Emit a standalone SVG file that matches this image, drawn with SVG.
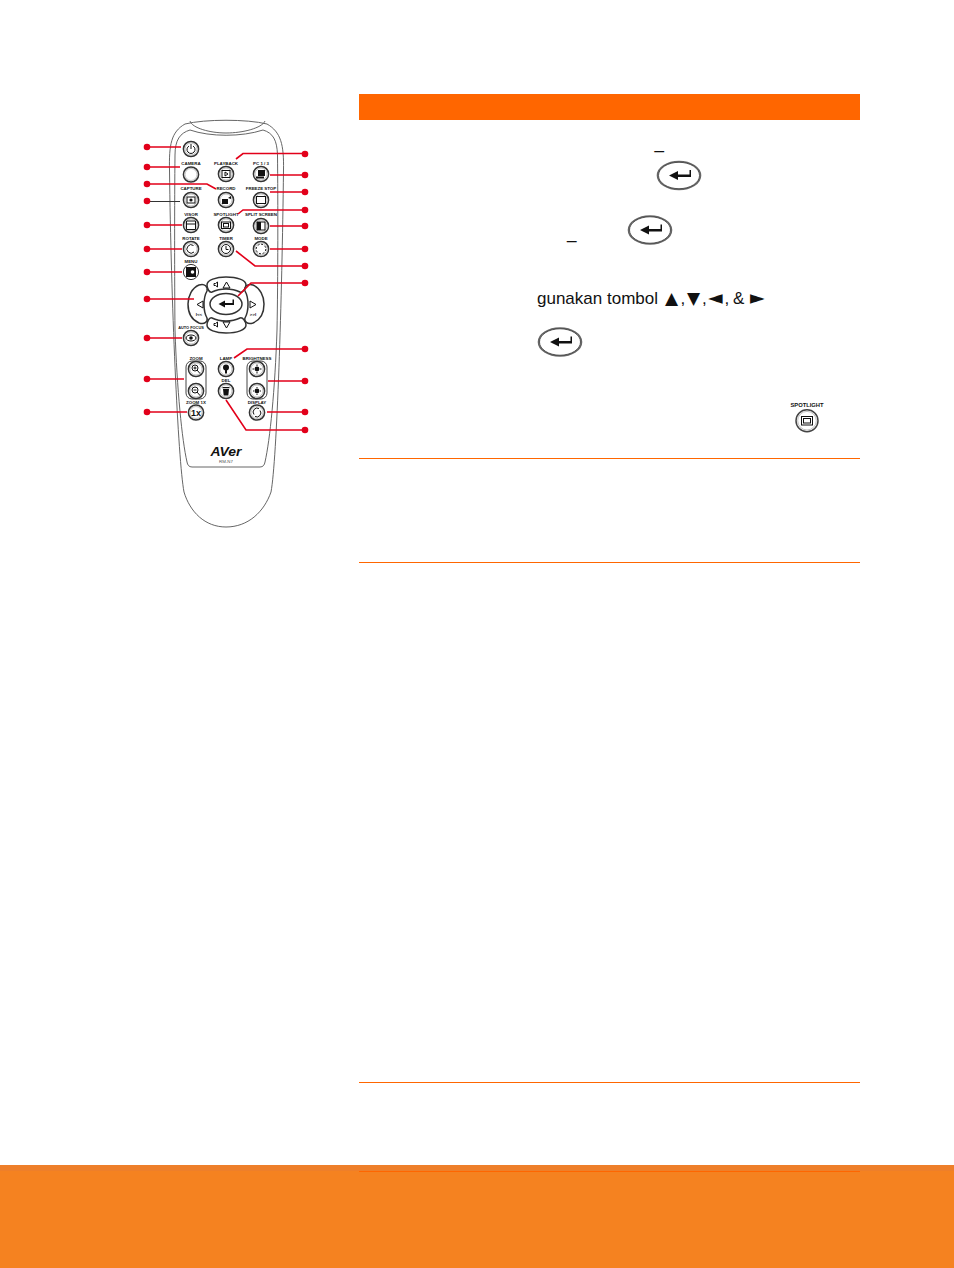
<svg xmlns="http://www.w3.org/2000/svg" width="954" height="1268" viewBox="0 0 954 1268">
<style>
.body{fill:none;stroke:#555;stroke-width:.9}
.btn{fill:#fff;stroke:#333;stroke-width:1.5}
.ring{fill:none;stroke:#999;stroke-width:.6}
.ico{fill:none;stroke:#111;stroke-width:1}
.solid{fill:#111;stroke:none}
.lbl{font-family:"Liberation Sans",Arial,sans-serif;font-size:4.4px;font-weight:bold;text-anchor:middle;fill:#111}
.con{fill:none;stroke:#e2001a;stroke-width:1.6}
.dot{fill:#e2001a;stroke:none}
.txt{font-family:"Liberation Sans",Arial,sans-serif;font-size:17px;fill:#111}
.tri{font-family:"DejaVu Sans",sans-serif;font-size:19px}
.tri2{font-family:"DejaVu Sans",sans-serif;font-size:17px}
.rule{stroke:#ff6600;stroke-width:1;fill:none}
</style>
<defs>
<g id="enter"><ellipse cx="0" cy="0" rx="21.500" ry="14" fill="#fff" stroke="#666" stroke-width="1.600"/><ellipse cx="0" cy="0" rx="20.500" ry="13.200" fill="none" stroke="#222" stroke-width=".7"/><path d="M-10 0L-1 -4.500V-1H10.500V-5.500H12V1.500H-1V4.500Z" fill="#111"/></g>
<g id="b"><circle r="7.600" class="btn"/><circle r="6" class="ring"/></g>
</defs>
<rect width="954" height="1268" fill="#fff"/>

<g id="page">
<rect x="359" y="94" width="501" height="26" fill="#ff6600"/>
<path class="rule" d="M359 458.500H860M359 562.500H860M359 1082.500H860"/>
<rect x="0" y="1165" width="954" height="103" fill="#f58220"/>
<rect x="0" y="1165" width="954" height="6" fill="#ee7f2a"/>
<path class="rule" d="M359 1171.500H860"/>
</g>

<g id="remote-body">
<path class="body" d="M226 527C205 527 190 512 184 492C178 460 171 300 169.500 170C169 145 171 132 185 124C205 119 247 119 267 124C281 132 284 145 283.500 170C282 300 277 460 271 492C264 512 248 527 226 527Z"/>
<path class="body" d="M175 330C174.500 280 174.500 200 175 155C175 140 180 133 190 130C210 137 242 137 263 130C273 133 277 140 277.500 155C278 200 278 280 277 330C275 390 270 440 265 462C264.500 465 263 467 260 467H192C189 467 187.500 465 187 462C182 440 177 390 175 330Z"/>
<path class="body" d="M190 121C192 128 210 133 226 133C243 133 262 128 265 121"/>
<text x="226" y="456" font-family="Liberation Sans,Arial,sans-serif" font-size="13" font-weight="bold" font-style="italic" text-anchor="middle" fill="#111" textLength="31" lengthAdjust="spacingAndGlyphs">AVer</text>
<text class="lbl" x="226" y="463" style="font-weight:normal;fill:#555">RM-N7</text>
</g>

<g id="btn-power"><use href="#b" x="191" y="149"/><path class="ico" d="M189 146A4 4 0 1 0 193 146M191 144V149"/></g>
<g id="btn-camera"><text class="lbl" x="191" y="165">CAMERA</text><use href="#b" x="191" y="174.500"/></g>
<g id="btn-capture"><text class="lbl" x="191" y="190">CAPTURE</text><use href="#b" x="191" y="200"/><rect class="ico" x="187" y="197" width="8" height="6"/><circle class="solid" cx="191" cy="200" r="1.600"/></g>
<g id="btn-visor"><text class="lbl" x="191" y="215.500">VISOR</text><use href="#b" x="191" y="225"/><path class="ico" d="M186.500 221H195.500V229.500H186.500ZM186.500 224H195.500"/></g>
<g id="btn-rotate"><text class="lbl" x="191" y="240">ROTATE</text><use href="#b" x="191" y="249"/><path class="ico" d="M193.500 245.500A4.200 4.200 0 1 0 194 252"/></g>
<g id="btn-menu"><text class="lbl" x="191" y="263">MENU</text><circle cx="191" cy="272" r="7.600" fill="#fff" stroke="#333"/><rect class="solid" x="186" y="267" width="10" height="10"/><circle cx="192.500" cy="272" r="1.800" fill="#fff"/></g>
<g id="btn-autofocus"><text class="lbl" x="191" y="329" style="font-size:3.900px">AUTO FOCUS</text><use href="#b" x="191" y="338"/><ellipse class="ico" cx="191" cy="338" rx="5" ry="3"/><circle class="solid" cx="191" cy="338" r="1.800"/></g>

<g id="btn-playback"><text class="lbl" x="226" y="165">PLAYBACK</text><use href="#b" x="226" y="174"/><rect class="ico" x="222" y="170.500" width="8" height="7"/><path class="ico" d="M225 172L228 174L225 176Z"/></g>
<g id="btn-record"><text class="lbl" x="226" y="190">RECORD</text><use href="#b" x="226" y="200"/><path class="solid" d="M222 199H228V204H222ZM228 198L231 196V199Z"/></g>
<g id="btn-spotlight"><text class="lbl" x="226" y="215.500">SPOTLIGHT</text><use href="#b" x="226" y="225"/><rect class="ico" x="221.500" y="222" width="9" height="6.500"/><rect class="ico" x="223.500" y="223.500" width="5" height="3.500"/></g>
<g id="btn-timer"><text class="lbl" x="226" y="240">TIMER</text><use href="#b" x="226" y="249"/><circle class="ico" cx="226" cy="249" r="4.500"/><path class="ico" d="M226 246V249.500H228.500"/></g>

<g id="btn-pc"><text class="lbl" x="261" y="165">PC 1 / 3</text><use href="#b" x="261" y="174"/><path class="solid" d="M258 170H265V176H258ZM256 176.500H264V178.500H256Z"/></g>
<g id="btn-freeze"><text class="lbl" x="261" y="190">FREEZE STOP</text><use href="#b" x="261" y="200"/><rect class="ico" x="256.500" y="196.500" width="9" height="7" stroke-width="1.200"/></g>
<g id="btn-split"><text class="lbl" x="261" y="215.500">SPLIT SCREEN</text><use href="#b" x="261" y="226"/><rect class="ico" x="257" y="222" width="8" height="8"/><rect class="solid" x="257" y="222" width="4" height="8"/></g>
<g id="btn-mode"><text class="lbl" x="261" y="240">MODE</text><use href="#b" x="261" y="249"/><circle cx="261" cy="249" r="4.800" fill="none" stroke="#111" stroke-dasharray="2 1.700"/></g>

<g id="dpad">
<path class="btn" d="M207 285C207 280 216 277 226 277C237 277 246 280 246 285C246 288 243 293 240 292C232 288 220 288 212 292C209 293 207 288 207 285Z"/>
<path class="btn" d="M207 325C207 330 216 333 226 333C237 333 246 330 246 325C246 322 243 317 240 318C232 322 220 322 212 318C209 317 207 322 207 325Z"/>
<path class="btn" d="M199 285C192 288 188 296 188 304C188 313 192 320 199 323C205 325 208 321 207 318C203 311 203 298 207 291C208 287 205 283 199 285Z"/>
<path class="btn" d="M253 285C260 288 264 296 264 304C264 313 260 320 253 323C247 325 244 321 245 318C249 311 249 298 245 291C244 287 247 283 253 285Z"/>
<ellipse class="btn" cx="226" cy="304" rx="16" ry="10.500"/>
<path d="M218.500 304L225 300.500V303H232.500V299.500H234V305H225V307.500Z" fill="#111"/>
<path class="ico" d="M223 288H230L226.500 282ZM223 322H230L226.500 328Z"/>
<path class="ico" d="M214 283.500H215.500L217.500 282V287L215.500 285.500H214ZM214 323.500H215.500L217.500 322V327L215.500 325.500H214Z"/>
<path class="ico" d="M203 301V308L197 304.500ZM250 301V308L256 304.500Z"/>
<text class="lbl" x="199" y="316">I&lt;&lt;</text><text class="lbl" x="253" y="316">&gt;&gt;I</text>
</g>

<g id="group-zoom"><text class="lbl" x="196" y="359.500">ZOOM</text><rect x="186" y="361" width="20" height="38" rx="6" fill="#fff" stroke="#444"/><use href="#b" x="196" y="369"/><use href="#b" x="196" y="391"/><circle class="ico" cx="195" cy="368" r="3"/><path class="ico" d="M197 370L200 373.500M193.500 368H196.500M195 366.500V369.500"/><circle class="ico" cx="195" cy="390" r="3"/><path class="ico" d="M197 392L200 395.500M193.500 390H196.500"/></g>
<g id="btn-zoom1x"><text class="lbl" x="196" y="403.500">ZOOM 1X</text><use href="#b" x="196" y="412.500"/><text x="196" y="415.800" font-family="Liberation Sans,Arial,sans-serif" font-size="9" font-weight="bold" text-anchor="middle" fill="#111">1x</text></g>
<g id="btn-lamp"><text class="lbl" x="226" y="359.500">LAMP</text><use href="#b" x="226" y="369"/><circle class="solid" cx="226" cy="367.500" r="3"/><rect class="solid" x="225" y="369" width="2" height="4.500"/></g>
<g id="btn-del"><text class="lbl" x="226" y="382">DEL</text><use href="#b" x="226" y="391"/><path class="solid" d="M222.500 387H229.500V388.300H222.500ZM223 389H229L228.300 395.500H223.700Z"/></g>
<g id="group-brightness"><text class="lbl" x="257" y="359.500">BRIGHTNESS</text><rect x="247" y="361" width="20" height="38" rx="6" fill="#fff" stroke="#444"/><use href="#b" x="257" y="369"/><use href="#b" x="257" y="391"/><circle class="solid" cx="257" cy="369" r="2.400"/><path class="ico" d="M257 364.500V366M257 372V373.500M252.500 369H254M260 369H261.500"/><circle class="solid" cx="257" cy="391" r="2.400"/><path class="ico" d="M257 387V388M257 394V395M253 391H254M260 391H261"/></g>
<g id="btn-display"><text class="lbl" x="257" y="403.500">DISPLAY</text><use href="#b" x="257" y="412.500"/><path class="ico" d="M254 414.500A4 4 0 0 1 259 408.500M260 410.500A4 4 0 0 1 255 416.500" stroke-width="1.200"/></g>

<g id="connectors">
<path class="con" d="M147 147H181M147 167H180M147 184H207L216 189M147 225H182M147 249H182M147 272H182M147 299H194M147 338H182M147 379H184M147 412H187"/>
<path d="M147 201.500H180" fill="none" stroke="#333" stroke-width="1"/>
<path class="con" d="M305 153.500H243L236 159M305 175H270M305 192H270M305 210H243L238 214M305 226H270M305 249H270M305 266H255L236 251M305 283H251L238 296M305 349H247L234 358M305 381H268M305 412H267M305 430H246L226 400"/>
<g class="dot">
<circle cx="147" cy="147" r="3.300"/><circle cx="147" cy="167" r="3.300"/><circle cx="147" cy="184" r="3.300"/><circle cx="147" cy="201" r="3.300"/><circle cx="147" cy="225" r="3.300"/><circle cx="147" cy="249" r="3.300"/><circle cx="147" cy="272" r="3.300"/><circle cx="147" cy="299" r="3.300"/><circle cx="147" cy="338" r="3.300"/><circle cx="147" cy="379" r="3.300"/><circle cx="147" cy="412" r="3.300"/>
<circle cx="305" cy="154" r="3.300"/><circle cx="305" cy="175" r="3.300"/><circle cx="305" cy="192" r="3.300"/><circle cx="305" cy="210" r="3.300"/><circle cx="305" cy="226" r="3.300"/><circle cx="305" cy="249" r="3.300"/><circle cx="305" cy="266" r="3.300"/><circle cx="305" cy="283" r="3.300"/><circle cx="305" cy="349" r="3.300"/><circle cx="305" cy="381" r="3.300"/><circle cx="305" cy="412" r="3.300"/><circle cx="305" cy="430" r="3.300"/>
</g>
</g>

<g id="content">
<text class="txt" x="654.500" y="149">_</text>
<use href="#enter" x="679" y="175.500"/>
<text class="txt" x="567" y="239">_</text>
<use href="#enter" x="650" y="230"/>
<text class="txt" x="537" y="304">gunakan tombol<tspan class="tri2" x="665">▲</tspan><tspan x="680.500">,</tspan><tspan class="tri2" x="687">▼</tspan><tspan x="702">,</tspan><tspan class="tri" x="708">◄</tspan><tspan x="724.500">,</tspan><tspan x="733">&amp;</tspan><tspan class="tri" x="750">►</tspan></text>
<use href="#enter" x="560" y="342"/>
<g id="icon-spotlight"><text class="lbl" x="807" y="407" style="font-size:5.800px">SPOTLIGHT</text><circle cx="807" cy="420.700" r="11" fill="#fff" stroke="#444" stroke-width="1.500"/><circle cx="807" cy="420.700" r="9.300" fill="none" stroke="#999" stroke-width=".6"/><rect x="801.500" y="416.500" width="11" height="8.500" class="ico"/><rect x="803.500" y="418.500" width="7" height="4.500" class="ico"/></g>
</g>
</svg>
